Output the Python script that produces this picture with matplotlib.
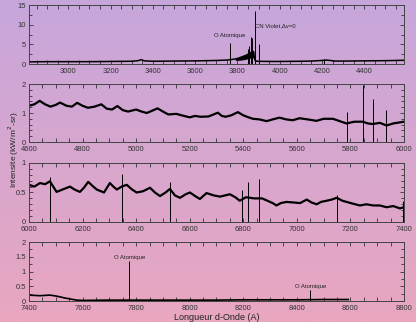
import numpy as np
import matplotlib
matplotlib.use("Agg")
import matplotlib.pyplot as plt
from matplotlib.ticker import MultipleLocator, FuncFormatter

plt.rcParams["font.family"] = ["Liberation Sans", "DejaVu Sans"]

# panel 1 : 2800-4600 A
wl1 = [2814, 2900, 3000, 3100, 3200, 3300, 3330, 3345, 3360, 3400, 3500, 3600,
       3700, 3750, 3780, 3800, 3820, 3840, 3860, 3875, 3883, 3890, 3950, 4000,
       4100, 4150, 4200, 4220, 4240, 4260, 4300, 4400, 4500, 4588]
int1 = [0.55, 0.6, 0.6, 0.6, 0.65, 0.7, 0.85, 1.1, 0.8, 0.7, 0.75, 0.8,
        0.9, 1.0, 1.2, 1.4, 1.8, 2.2, 2.8, 3.2, 1.0, 0.7, 0.65, 0.65,
        0.7, 0.75, 0.9, 1.0, 0.9, 0.75, 0.75, 0.8, 0.85, 0.95]
spk1_wl = [3765, 3848, 3855, 3863, 3870, 3882, 3903, 4210]
spk1_h = [5.4, 3.8, 4.5, 6.8, 6.5, 13.5, 5.0, 1.4]
# dense CN band envelope
band_wl = [3790, 3820, 3840, 3860, 3878]
band_lo = [0.9, 1.0, 1.2, 1.5, 1.6]
band_hi = [1.3, 1.9, 2.4, 3.0, 3.4]

# panel 2 : 4600-6000 A
wl2 = [4600, 4620, 4640, 4660, 4680, 4700, 4716, 4740, 4760, 4780, 4800, 4820,
       4845, 4870, 4890, 4910, 4930, 4950, 4970, 5000, 5020, 5040, 5060, 5080,
       5100, 5120, 5150, 5170, 5200, 5220, 5240, 5270, 5305, 5320, 5334, 5355,
       5380, 5400, 5420, 5436, 5460, 5487, 5510, 5535, 5560, 5585, 5610, 5640,
       5673, 5700, 5735, 5760, 5785, 5815, 5847, 5865, 5883, 5910, 5935, 5960, 6000]
int2 = [1.25, 1.3, 1.42, 1.3, 1.22, 1.28, 1.36, 1.25, 1.22, 1.35, 1.25, 1.18,
        1.22, 1.3, 1.15, 1.12, 1.24, 1.1, 1.05, 1.12, 1.05, 1.0, 1.08, 1.16,
        1.05, 0.95, 0.97, 0.92, 0.85, 0.9, 0.87, 0.88, 1.01, 0.9, 0.87, 0.92,
        1.03, 0.92, 0.85, 0.8, 0.78, 0.72, 0.78, 0.84, 0.78, 0.75, 0.82, 0.78,
        0.73, 0.8, 0.8, 0.72, 0.64, 0.7, 0.7, 0.64, 0.62, 0.66, 0.57, 0.64, 0.7]
spk2_wl = [5789, 5848, 5884, 5933]
spk2_h = [1.02, 1.97, 1.48, 1.1]

# panel 3 : 6000-7400 A
wl3 = [6000, 6020, 6041, 6060, 6078, 6103, 6125, 6153, 6170, 6190, 6205, 6221,
       6240, 6253, 6280, 6302, 6315, 6328, 6346, 6365, 6385, 6402, 6425, 6452,
       6470, 6489, 6510, 6526, 6545, 6564, 6585, 6601, 6620, 6638, 6663, 6690,
       6713, 6750, 6770, 6787, 6810, 6840, 6870, 6890, 6910, 6924, 6940, 6961,
       6990, 7012, 7037, 7055, 7074, 7090, 7111, 7130, 7149, 7170, 7186, 7210,
       7235, 7260, 7285, 7310, 7335, 7360, 7385, 7400]
int3 = [0.63, 0.6, 0.66, 0.64, 0.69, 0.51, 0.55, 0.6, 0.55, 0.51, 0.58, 0.68,
        0.6, 0.55, 0.5, 0.66, 0.6, 0.55, 0.6, 0.63, 0.55, 0.5, 0.52, 0.58,
        0.5, 0.44, 0.5, 0.56, 0.45, 0.41, 0.47, 0.5, 0.44, 0.39, 0.49, 0.45,
        0.43, 0.47, 0.42, 0.36, 0.42, 0.4, 0.4, 0.36, 0.32, 0.28, 0.32, 0.34,
        0.33, 0.32, 0.38, 0.33, 0.3, 0.34, 0.36, 0.38, 0.41, 0.36, 0.34, 0.31,
        0.28, 0.3, 0.28, 0.28, 0.25, 0.27, 0.23, 0.25]
spk3_wl = [6078, 6346, 6526, 6796, 6816, 6859, 7149, 7395]
spk3_h = [0.76, 0.81, 0.67, 0.54, 0.67, 0.73, 0.45, 0.35]

# panel 4 : 7400-8800 A
wl4 = [7400, 7440, 7478, 7500, 7516, 7535, 7553, 7578, 7600, 7700, 7800, 7900,
       8000, 8100, 8200, 8300, 8400, 8500, 8592]
int4 = [0.2, 0.18, 0.2, 0.17, 0.14, 0.1, 0.07, 0.03, 0.02, 0.03, 0.03, 0.03,
        0.03, 0.03, 0.04, 0.04, 0.04, 0.05, 0.05]
spk4_wl = [7775, 8451]
spk4_h = [1.36, 0.37]

panels = [
    (wl1, int1, spk1_wl, spk1_h, (2814, 4588), 15, 5, 2.5, 1.1),
    (wl2, int2, spk2_wl, spk2_h, (4600, 6000), 2, 1, 0.2, 1.6),
    (wl3, int3, spk3_wl, spk3_h, (6000, 7400), 1, 0.5, 0.1, 1.6),
    (wl4, int4, spk4_wl, spk4_h, (7400, 8800), 2, 0.5, 0.25, 1.2),
]
boxes = [[0.0697, 0.8012, 0.9014, 0.1832],
         [0.0697, 0.5590, 0.9014, 0.1801],
         [0.0697, 0.3106, 0.9014, 0.1832],
         [0.0697, 0.0652, 0.9014, 0.1832]]

fig = plt.figure(figsize=(4.16, 3.22), dpi=100)

# background gradient lavender -> pink
bg = fig.add_axes([0, 0, 1, 1], zorder=-10)
top = np.array([199, 166, 220]) / 255
bot = np.array([233, 167, 192]) / 255
t = np.linspace(0, 1, 256)[:, None]
grad = top[None, :] * (1 - t) + bot[None, :] * t
bg.imshow(grad[:, None, :], aspect="auto", extent=[0, 1, 0, 1])
bg.axis("off")

fmt = FuncFormatter(lambda v, p: f"{v:g}")

axes = []
for box, (wl, val, swl, sh, xl, ymax, ymaj, ymin, lw) in zip(boxes, panels):
    ax = fig.add_axes(box)
    ax.set_facecolor("none")
    ax.plot(wl, val, color="black", lw=lw)
    ax.vlines(swl, 0, sh, color="black", lw=0.7)
    ax.set_xlim(*xl)
    ax.set_ylim(0, ymax)
    ax.xaxis.set_major_locator(MultipleLocator(200))
    ax.xaxis.set_minor_locator(MultipleLocator(50))
    ax.yaxis.set_major_locator(MultipleLocator(ymaj))
    ax.yaxis.set_minor_locator(MultipleLocator(ymin))
    ax.yaxis.set_major_formatter(fmt)
    ax.tick_params(which="both", direction="in", top=True, right=True,
                   labelsize=5.5, colors="#333333", width=0.6, pad=2)
    ax.tick_params(axis="x", pad=3)
    ax.tick_params(which="major", length=3)
    ax.tick_params(which="minor", length=2)
    ax.tick_params(axis="x", which="minor", length=3)
    for s in ax.spines.values():
        s.set_color("#444444")
        s.set_linewidth(0.7)
    axes.append(ax)

axes[0].fill_between(band_wl, band_lo, band_hi, color="black", lw=0)

axes[0].text(3765, 6.6, "O Atomique", fontsize=4.3, ha="center", va="bottom", color="#222222")
axes[0].text(3885, 9.0, "CN Violet,\u0394v=0", fontsize=4.3, ha="left", va="bottom", color="#222222")
axes[3].text(7775, 1.4, "O Atomique", fontsize=4.3, ha="center", va="bottom", color="#222222")
axes[3].text(8451, 0.4, "O Atomique", fontsize=4.3, ha="center", va="bottom", color="#222222")

fig.text(0.034, 0.534, "Intensite (kW/m$^2$-sr)", rotation=90, fontsize=6,
         ha="center", va="center", color="#222222")
fig.text(0.52, 0.014, "Longueur d-Onde (A)", fontsize=6.5, ha="center", va="center",
         color="#222222")

fig.savefig("out.png", dpi=100)
